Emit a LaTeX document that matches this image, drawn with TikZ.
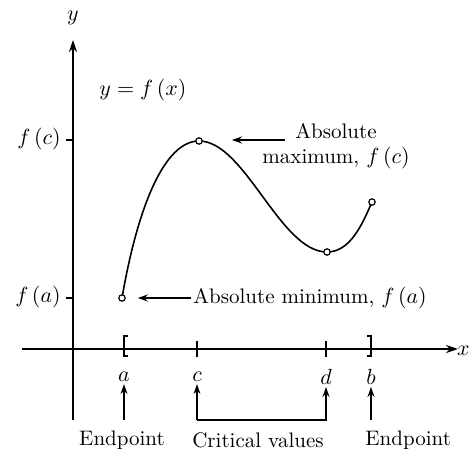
\documentclass[tikz,border=0pt]{standalone}
\usepackage{amsmath,amssymb}
\usepackage{tikz}
\usetikzlibrary{arrows.meta, positioning, calc}

\begin{document}
\begin{tikzpicture}[x=0.5pt, y=-0.5pt,
    axis/.style={thick, -{Stealth[length=6pt, width=4pt]}},
    pointer/.style={semithick, -{Stealth[length=5pt, width=3.5pt]}},
    dot/.style={circle, draw, fill=white, inner sep=0pt, minimum size=3.2pt, semithick},
    lbl/.style={font=\fontsize{10.5}{12.5}\selectfont, inner sep=1pt}]
  \useasboundingbox (0,0) rectangle (472,449);
  % axes
  \coordinate (xs) at (22,349);
  \coordinate (xe) at (458,349);
  \coordinate (ys) at (73,420);
  \coordinate (ye) at (73,40);
  \draw[axis] (xs) -- (xe);
  \draw[axis] (ys) -- (ye);
  \node[lbl, anchor=east] (xlab) at (472,351) {$x$};
  \node[lbl] (ylab) at (73,18) {$y$};
  % function values on the y axis
  \draw[thick] (66,140) -- (73,140);
  \draw[thick] (66,298) -- (73,298);
  \node[lbl, anchor=east] (fc) at (63,139) {$f\,(c)$};
  \node[lbl, anchor=east] (fa) at (63,297) {$f\,(a)$};
  \node[lbl] (eqn) at (143,90) {$y = f\,(x)$};
  % the curve
  \draw[thick] (122,298) .. controls (138,205) and (165,141) .. (199,141)
    .. controls (245,141) and (280,252) .. (327,252)
    .. controls (350,252) and (362,225) .. (372,202);
  \node[dot] (pa) at (122,298) {};
  \node[dot] (pc) at (199,141) {};
  \node[dot] (pd) at (327,252) {};
  \node[dot] (pb) at (372,202) {};
  % annotations
  \node[lbl, align=center] (maxtxt) at (336,146) {Absolute\\maximum, $f\,(c)$};
  \coordinate (maxtail) at (285,140);
  \coordinate (maxtip) at (232,140);
  \draw[pointer] (maxtail) -- (maxtip);
  \node[lbl, anchor=west] (mintxt) at (191,298) {Absolute minimum, $f\,(a)$};
  \draw[pointer, shorten >=6pt] (mintxt.west) -- (pa);
  % interval and ticks on the x axis
  \draw[thick] (128,336) -- (124,336) -- (124,356) -- (128,356);
  \draw[thick] (367,336) -- (371,336) -- (371,356) -- (367,356);
  \draw[thick] (197,341) -- (197,357);
  \draw[thick] (326,341) -- (326,357);
  \node[lbl] (la) at (124,377) {$a$};
  \node[lbl] (lc) at (197,377) {$c$};
  \node[lbl] (ld) at (326,377) {$d$};
  \node[lbl] (lb) at (371,377) {$b$};
  % arrows to the labels
  \coordinate (qa) at (124,420);
  \coordinate (qb) at (371,420);
  \draw[pointer] (qa) -- (la);
  \draw[pointer] (qb) -- (lb);
  \draw[pointer] (lc |- qa) -- (lc);
  \draw[pointer] (lc |- qa) -- (ld |- qa) -- (ld);
  \node[lbl] (ep1) at (122,440) {Endpoint};
  \node[lbl] (crit) at (258,440) {Critical values};
  \node[lbl, anchor=west] (ep2) at (363,440) {Endpoint};
\end{tikzpicture}
\end{document}
